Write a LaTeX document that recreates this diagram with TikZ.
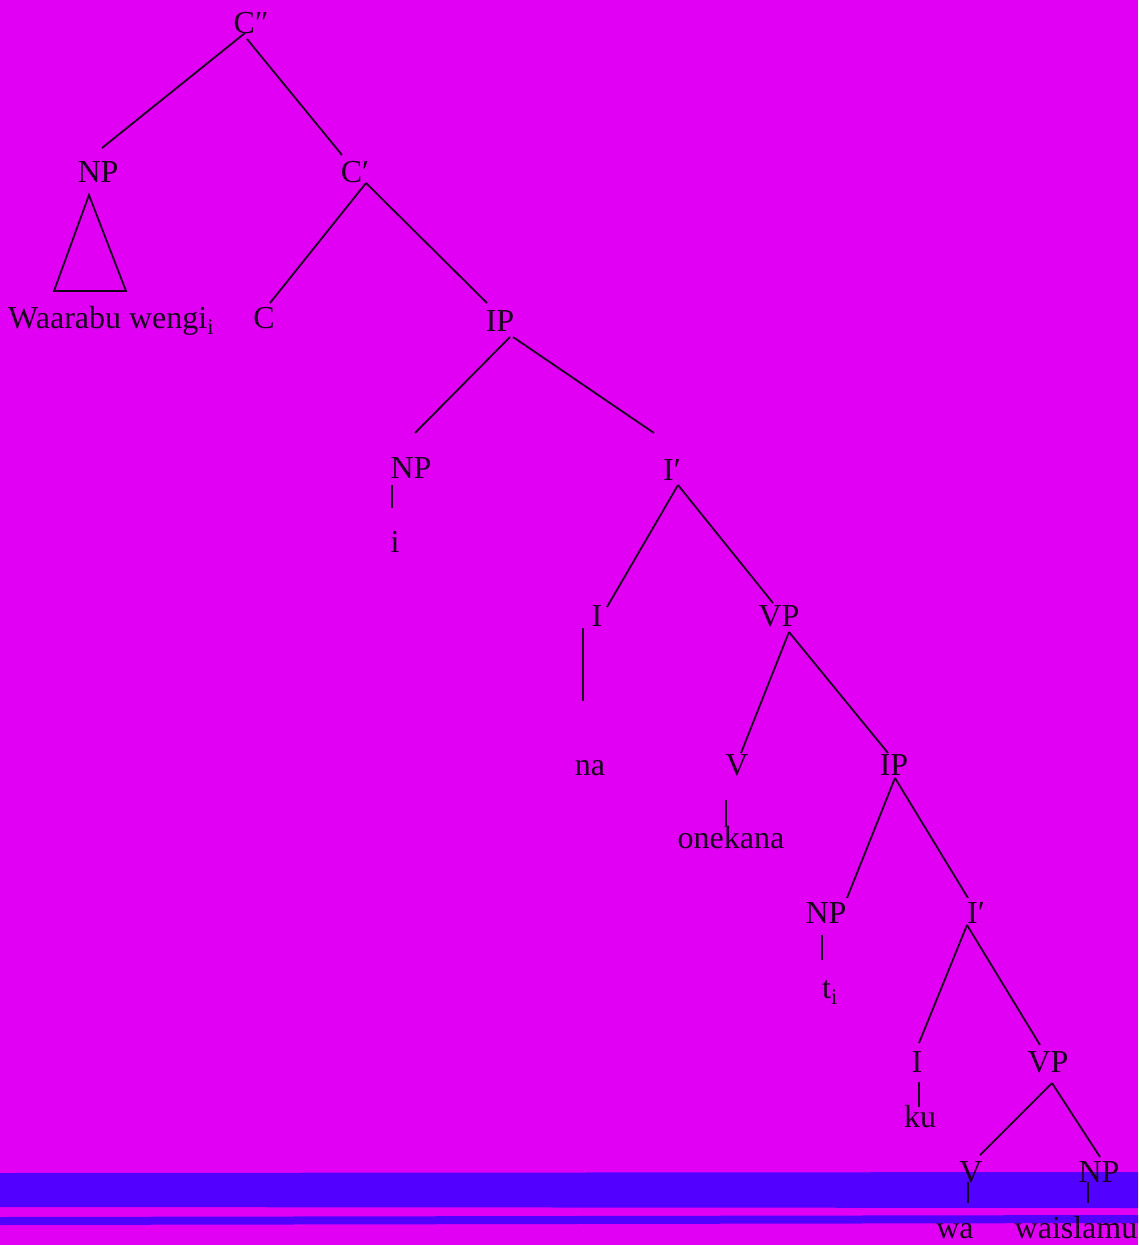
\documentclass[tikz,border=0pt]{standalone}
\usepackage{fontspec}
\setmainfont{Liberation Serif}
\definecolor{bgmag}{RGB}{225,0,243}
\definecolor{bandblue}{RGB}{82,0,255}
\definecolor{ink}{RGB}{25,0,30}
\tikzset{
  lab/.style={anchor=base, inner sep=0pt, text=ink, font=\fontsize{32}{38}\selectfont},
  branch/.style={draw=ink, line width=1.8pt},
}
\begin{document}
\begin{tikzpicture}[x=1pt, y=-1pt]
\useasboundingbox (0,0) rectangle (1138,1245);
\fill[bgmag] (0,0) rectangle (1138,1245);
\fill[bandblue] (0,1173) -- (1138,1172) -- (1138,1208) -- (0,1207) -- cycle;
\fill[bandblue] (0,1217) -- (1138,1215) -- (1138,1223) -- (0,1225) -- cycle;

% nodes
\node[lab] (Cpp) at (251,33) {C″};
\node[lab] (NPa) at (98,182) {NP};
\node[lab, anchor=base west] (Waar) at (8,328) {Waarabu wengi\textsubscript{i}};
\node[lab] (Cp) at (355,182) {C′};
\node[lab] (C) at (264,328) {C};
\node[lab] (IPa) at (500,331) {IP};
\node[lab] (NPb) at (411,478) {NP};
\node[lab] (ii) at (395,552) {i};
\node[lab] (Ipa) at (672,480) {I′};
\node[lab] (Ia) at (597,626) {I};
\node[lab] (na) at (590,775) {na};
\node[lab] (VPa) at (779,626) {VP};
\node[lab] (Va) at (737,775) {V};
\node[lab] (onek) at (731,848) {onekana};
\node[lab] (IPb) at (894,775) {IP};
\node[lab] (NPc) at (826,923) {NP};
\node[lab] (ti) at (830,998) {t\textsubscript{i}};
\node[lab] (Ipb) at (976,923) {I′};
\node[lab] (Ib) at (917,1072) {I};
\node[lab] (ku) at (920,1127) {ku};
\node[lab] (VPb) at (1048,1072) {VP};
\node[lab] (Vb) at (971,1182) {V};
\node[lab] (NPd) at (1099,1182) {NP};
\node[lab] (wa) at (955,1238) {wa};
\node[lab] (wais) at (1076,1238) {waislamu};

% connectors
\draw[branch] ([shift={(-6,0)}]Cpp.base) -- ([shift={(4,-34)}]NPa.base);
\draw[branch] ([shift={(-4,6)}]Cpp.base) -- ([shift={(-13,-27)}]Cp.base);
\draw[branch] ([shift={(-9,13)}]NPa.base) -- ([shift={(-44,109)}]NPa.base)
   -- ([shift={(28,109)}]NPa.base) -- cycle;
\draw[branch] ([shift={(11,1)}]Cp.base) -- ([shift={(6,-25)}]C.base);
\draw[branch] ([shift={(11,1)}]Cp.base) -- ([shift={(-13,-28)}]IPa.base);
\draw[branch] ([shift={(10,6)}]IPa.base) -- ([shift={(4,-45)}]NPb.base);
\draw[branch] ([shift={(13,6)}]IPa.base) -- ([shift={(-18,-47)}]Ipa.base);
\draw[branch] ([shift={(-19,7)}]NPb.base) -- ([shift={(-19,30)}]NPb.base);
\draw[branch] ([shift={(6,5)}]Ipa.base) -- ([shift={(10,-19)}]Ia.base);
\draw[branch] ([shift={(6,5)}]Ipa.base) -- ([shift={(-6,-23)}]VPa.base);
\draw[branch] ([shift={(-14,2)}]Ia.base) -- ([shift={(-7,-74)}]na.base);
\draw[branch] ([shift={(10,6)}]VPa.base) -- ([shift={(4,-22)}]Va.base);
\draw[branch] ([shift={(10,6)}]VPa.base) -- ([shift={(-6,-22)}]IPb.base);
\draw[branch] ([shift={(-11,25)}]Va.base) -- ([shift={(-5,-22)}]onek.base);
\draw[branch] ([shift={(1,3)}]IPb.base) -- ([shift={(21,-25)}]NPc.base);
\draw[branch] ([shift={(1,3)}]IPb.base) -- ([shift={(-8,-25)}]Ipb.base);
\draw[branch] ([shift={(-4,12)}]NPc.base) -- ([shift={(-8,-38)}]ti.base);
\draw[branch] ([shift={(-9,2)}]Ipb.base) -- ([shift={(2,-29)}]Ib.base);
\draw[branch] ([shift={(-9,2)}]Ipb.base) -- ([shift={(-8,-27)}]VPb.base);
\draw[branch] ([shift={(2,10)}]Ib.base) -- ([shift={(-1,-20)}]ku.base);
\draw[branch] ([shift={(4,11)}]VPb.base) -- ([shift={(9,-27)}]Vb.base);
\draw[branch] ([shift={(4,11)}]VPb.base) -- ([shift={(1,-25)}]NPd.base);
\draw[branch] ([shift={(-3,0)}]Vb.base) -- ([shift={(13,-35)}]wa.base);
\draw[branch] ([shift={(-11,0)}]NPd.base) -- ([shift={(12,-35)}]wais.base);
\end{tikzpicture}
\end{document}
